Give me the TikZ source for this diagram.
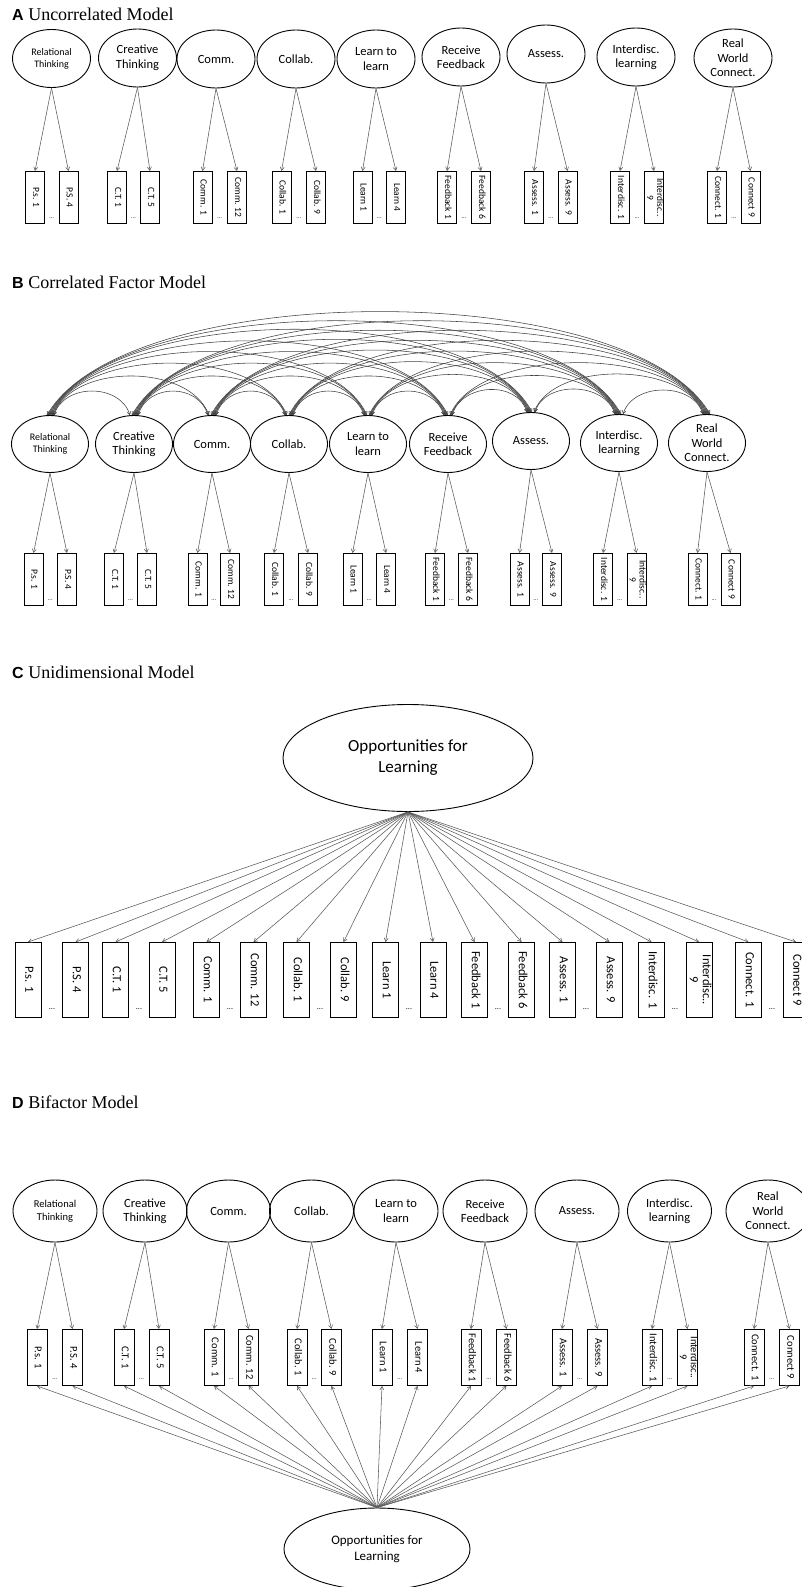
\documentclass[tikz,border=0pt]{standalone}
\usepackage{fontspec}
\usepackage{graphicx}
\setmainfont{Carlito}
\newfontfamily\titlefont{Liberation Serif}
\newfontfamily\letterfont{Liberation Sans}
\usetikzlibrary{arrows.meta,shapes.geometric}

\newcommand{\vlab}[1]{\makebox[0pt]{\rotatebox{-90}{\begin{tabular}{@{}c@{}}#1\end{tabular}}}}
\newcommand{\panel}[2]{{\letterfont\bfseries\fontsize{16}{18}\selectfont #1} #2}

\tikzset{
  factor/.style={draw, ellipse, line width=0.9pt, inner sep=0pt, align=center,
    minimum width=78pt, minimum height=58pt},
  item/.style={draw, rectangle, line width=0.9pt, inner sep=0pt, anchor=north,
    minimum width=19pt, minimum height=52pt, font=\fontsize{9.5}{10}\selectfont},
  load/.style={draw=black!65, line width=0.55pt, -{Straight Barb[length=3.5pt,width=4pt]}},
  cov/.style={draw=black!75, line width=0.55pt,
    {Straight Barb[length=3pt,width=3.5pt]}-{Straight Barb[length=3pt,width=3.5pt]}},
  dots/.style={inner sep=0pt, font=\fontsize{6}{6}\selectfont},
  title/.style={anchor=base west, inner sep=0pt, font=\titlefont\fontsize{18}{21}\selectfont}
}

\begin{document}
\begin{tikzpicture}[x=1pt, y=-1pt]
  \useasboundingbox (0,0) rectangle (802,1587);

  % A: uncorrelated model
  \node[title] (tA) at (12,21) {\panel{A}{Uncorrelated Model}};
  \foreach \n/\x/\y/\p/\q/\f/\l/\t/\u/\v in {
    1/51.5/58.5/35/68.5/10/12/{Relational\\Thinking}/P.s. 1/P.S. 4,
    2/137.5/58/117/150/12.5/14.5/{Creative\\Thinking}/C.T. 1/C.T. 5,
    3/216/59/202.5/237/12.5/14.5/Comm./Comm. 1/Comm. 12,
    4/296/59/281.5/316/12.5/14.5/Collab./Collab. 1/Collab. 9,
    5/376/59/362.5/396/12.5/14.5/{Learn to\\learn}/Learn 1/Learn 4,
    6/461/57/447/481/12.5/14.5/{Receive\\Feedback}/Feedback 1/Feedback 6,
    7/546/54/534/567.5/12.5/14.5/Assess./Assess. 1/Assess. 9,
    8/636/57/620/654/12.5/14.5/{Interdisc.\\learning}/Interdisc. 1/{Interdisc..\\9},
    9/733/58/717/750.5/12.5/14.5/{Real\\World\\Connect.}/Connect. 1/Connect 9}
  {
    \node[factor, font=\fontsize{\f}{\l}\selectfont] (A\n) at (\x,\y) {\t};
    \node[item] (A\n-a) at (\p,171) {\vlab{\u}};
    \node[item] (A\n-b) at (\q,171) {\vlab{\v}};
    \node[dots] (A\n-d) at ({(\p+\q)/2},218) {...};
    \draw[load] (A\n.south) -- (A\n-a.north);
    \draw[load] (A\n.south) -- (A\n-b.north);
  }

  % B: correlated factor model
  \node[title] (tB) at (12,288) {\panel{B}{Correlated Factor Model}};
  \foreach \n/\x/\y/\p/\q/\f/\l/\t/\u/\v in {
    1/50/444/33.5/67/10/12/{Relational\\Thinking}/P.s. 1/P.S. 4,
    2/134/444/114/147/12.5/14.5/{Creative\\Thinking}/C.T. 1/C.T. 5,
    3/212/444/197.5/230/12.5/14.5/Comm./Comm. 1/Comm. 12,
    4/289/444/274/308/12.5/14.5/Collab./Collab. 1/Collab. 9,
    5/368/444/352.5/386/12.5/14.5/{Learn to\\learn}/Learn 1/Learn 4,
    6/448/444/435/468/12.5/14.5/{Receive\\Feedback}/Feedback 1/Feedback 6,
    7/531/441/519.5/552/12.5/14.5/Assess./Assess. 1/Assess. 9,
    8/619/443/603/636.5/12.5/14.5/{Interdisc.\\learning}/Interdisc. 1/{Interdisc..\\9},
    9/707/443/697.5/730.5/12.5/14.5/{Real\\World\\Connect.}/Connect. 1/Connect 9}
  {
    \node[factor, minimum width=77pt, minimum height=57pt, font=\fontsize{\f}{\l}\selectfont] (B\n) at (\x,\y) {\t};
    \node[item] (B\n-a) at (\p,553) {\vlab{\u}};
    \node[item] (B\n-b) at (\q,553) {\vlab{\v}};
    \node[dots] (B\n-d) at ({(\p+\q)/2},600) {...};
    \draw[load] (B\n.south) -- (B\n-a.north);
    \draw[load] (B\n.south) -- (B\n-b.north);
  }
  \foreach \i in {1,...,8}{
    \pgfmathtruncatemacro{\k}{\i+1}
    \foreach \j in {\k,...,9}{
      \pgfmathtruncatemacro{\d}{\j-\i}
      \pgfmathsetmacro{\h}{32*\d^0.7}
      \pgfmathsetmacro{\c}{10*\d}
      \pgfmathtruncatemacro{\ai}{80+2*\d}
      \pgfmathtruncatemacro{\aj}{100-2*\d}
      \draw[cov] (B\i.\ai) .. controls +(\c,-\h) and +(-\c,-\h) .. (B\j.\aj);
    }
  }

  % C: unidimensional model
  \node[title] (tC) at (12,678) {\panel{C}{Unidimensional Model}};
  \node[factor, minimum width=250pt, minimum height=107pt, font=\fontsize{17}{21}\selectfont]
    (C0) at (408,758) {Opportunities for\\Learning};
  \foreach \n/\x/\u in {
    1/28/P.s. 1, 2/75.5/P.S. 4, 3/115.5/C.T. 1, 4/162/C.T. 5,
    5/206.5/Comm. 1, 6/253.5/Comm. 12, 7/296.5/Collab. 1, 8/343.5/Collab. 9,
    9/385.5/Learn 1, 10/433/Learn 4, 11/474.5/Feedback 1, 12/521.5/Feedback 6,
    13/562.5/Assess. 1, 14/609.5/Assess. 9, 15/651.5/Interdisc. 1, 16/699/{Interdisc..\\9},
    17/748.5/Connect. 1, 18/796/Connect 9}
  {
    \node[item, minimum width=26pt, minimum height=75pt, font=\fontsize{12.5}{13}\selectfont]
      (C\n) at (\x,942) {\vlab{\u}};
    \draw[load] (C0.south) -- (C\n.north);
  }
  \foreach \n/\x in {1/52,2/139,3/230,4/320,5/409,6/498,7/586,8/675,9/772}
    \node[dots, font=\fontsize{8}{8}\selectfont] (C\n-d) at (\x,1009) {...};

  % D: bifactor model
  \node[title] (tD) at (12,1108) {\panel{D}{Bifactor Model}};
  \node[factor, minimum width=186pt, minimum height=82pt, font=\fontsize{13}{16}\selectfont]
    (G) at (377,1549) {Opportunities for\\Learning};
  \foreach \n/\x/\p/\q/\f/\l/\t/\u/\v in {
    1/55/37/72.5/10.5/12.5/{Relational\\Thinking}/P.s. 1/P.S. 4,
    2/145/124/159/12.5/14.5/{Creative\\Thinking}/C.T. 1/C.T. 5,
    3/228.5/214/248.5/12.5/14.5/Comm./Comm. 1/Comm. 12,
    4/311.5/297/331.5/12.5/14.5/Collab./Collab. 1/Collab. 9,
    5/396/382/417.5/12.5/14.5/{Learn to\\learn}/Learn 1/Learn 4,
    6/485/471/506.5/12.5/14.5/{Receive\\Feedback}/Feedback 1/Feedback 6,
    7/577/562/597.5/12.5/14.5/Assess./Assess. 1/Assess. 9,
    8/669.5/652/687.5/12.5/14.5/{Interdisc.\\learning}/Interdisc. 1/{Interdisc..\\9},
    9/768/754/789.5/12.5/14.5/{Real\\World\\Connect.}/Connect. 1/Connect 9}
  {
    \node[factor, minimum width=84pt, minimum height=62pt, font=\fontsize{\f}{\l}\selectfont] (D\n) at (\x,1211) {\t};
    \node[item, minimum width=20pt, minimum height=56pt, font=\fontsize{10.5}{11}\selectfont] (D\n-a) at (\p,1329) {\vlab{\u}};
    \node[item, minimum width=20pt, minimum height=56pt, font=\fontsize{10.5}{11}\selectfont] (D\n-b) at (\q,1329) {\vlab{\v}};
    \node[dots] (D\n-d) at ({(\p+\q)/2},1379) {...};
    \draw[load] (D\n.south) -- (D\n-a.north);
    \draw[load] (D\n.south) -- (D\n-b.north);
    \draw[load] (G.north) -- (D\n-a.south);
    \draw[load] (G.north) -- (D\n-b.south);
  }
\end{tikzpicture}
\end{document}
